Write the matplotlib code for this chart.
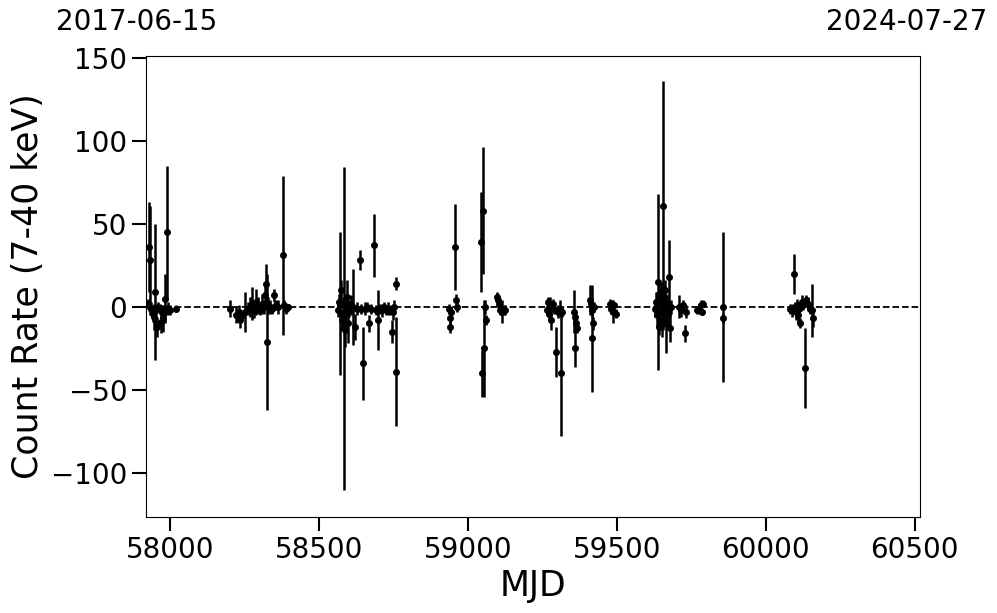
import numpy as np
import matplotlib
matplotlib.use('Agg')
import matplotlib.pyplot as plt

# MJD, count rate, 1-sigma error
mjd = [57926, 57929, 57931, 57936, 57942, 57946, 57949, 57953, 57956, 57959,
       57966, 57969, 57973, 57976, 57983, 57986, 57990, 57993, 58000, 58020,
       58201, 58221, 58231, 58235, 58241, 58251, 58262, 58268, 58275, 58282,
       58288, 58295, 58302, 58309, 58315, 58319, 58322, 58324, 58329, 58335,
       58342, 58349, 58356, 58362, 58379, 58382, 58389, 58396,
       58564, 58567, 58570, 58574, 58577, 58580, 58584, 58587, 58590, 58594,
       58597, 58600, 58607, 58614, 58620, 58627, 58637, 58640, 58648, 58654,
       58661, 58668, 58675, 58685, 58691, 58698, 58705, 58711, 58718, 58725,
       58732, 58738, 58745, 58748, 58752, 58758, 58760,
       58936, 58940, 58941, 58944, 58957, 58959, 58962, 59044, 59051, 59057,
       59061, 59054, 59046, 59098, 59101, 59104, 59108, 59114, 59121, 59124,
       59266, 59269, 59272, 59276, 59279, 59286, 59289, 59296, 59302, 59309,
       59312, 59316, 59356, 59359, 59363, 59366, 59361, 59410, 59413, 59417,
       59420, 59418, 59423, 59477, 59480, 59484, 59487, 59490, 59497,
       59628, 59632, 59635, 59638, 59640, 59642, 59645, 59648, 59652, 59655,
       59658, 59662, 59665, 59668, 59672, 59675, 59678, 59682, 59709, 59716,
       59722, 59729, 59732, 59769, 59776, 59783, 59786, 59789, 59857, 59858,
       60082, 60089, 60095, 60099, 60102, 60105, 60109, 60112, 60116, 60122,
       60126, 60132, 60136, 60143, 60149, 60156, 60157]
rate = [2, 36, 28, -1, -4, -6, 9, -2, -12, 0,
        -1, -9, -3, -7, 5, -2, 45, -1, -2, -1,
        -1, -5, -3, -8, -5, -3, -1, 0, 2, -2,
        3, 1, -1, 2, 0, 7, 14, -21, 1, 0,
        -1, 7, 1, 0, 31, 1, -1, 0,
        -2, 3, 2, 10, -8, -4, -13, -14, 0, 6,
        -10, -1, 1, 0, -12, -1, 28, -1, -34, -1,
        0, -10, -1, 37, -2, -8, -1, -2, 0, -2,
        -1, -2, -15, -3, 0, 14, -39,
        -1, -7, -12, -3, 36, 4, 0, 39, 58, 0,
        -8, -25, -40, 6, 4, 2, -2, -3, -2, -2,
        -2, 3, -4, 0, -8, 2, -1, -27, -3, -1,
        -40, -3, -3, -6, -10, -13, -25, 4, 2, -2,
        -10, -19, 0, 2, -1, 0, -3, 1, -4,
        -1, 3, -5, 15, -12, 8, -3, 5, -8, 61,
        0, 10, -10, 2, -4, 18, -13, 0, 0, -2,
        1, -16, -3, -2, -1, 1, -3, 2, 0, -7,
        -1, -2, 20, 0, -3, 1, -5, -1, -10, 3,
        1, -37, 4, 2, -1, -2, -7]
err = [3, 27, 33, 4, 5, 8, 41, 3, 6, 3,
       3, 7, 4, 8, 15, 3, 40, 4, 3, 2,
       5, 5, 4, 5, 3, 12, 4, 6, 10, 5,
       8, 5, 4, 6, 4, 6, 12, 41, 5, 4,
       3, 4, 3, 4, 48, 3, 3, 2,
       4, 5, 43, 6, 6, 10, 97, 10, 8, 10,
       12, 5, 6, 23, 8, 4, 6, 3, 22, 4,
       3, 5, 3, 19, 3, 18, 3, 4, 3, 3,
       4, 3, 7, 5, 4, 4, 33,
       3, 5, 4, 3, 26, 4, 3, 30, 38, 4,
       3, 29, 14, 3, 4, 3, 3, 7, 3, 3,
       3, 3, 4, 6, 6, 3, 3, 15, 4, 5,
       38, 3, 13, 3, 3, 3, 11, 9, 3, 4,
       4, 32, 3, 3, 3, 4, 7, 2, 3,
       5, 6, 7, 53, 5, 6, 8, 10, 10, 75,
       12, 6, 18, 5, 7, 22, 8, 4, 7, 4,
       3, 5, 4, 2, 3, 3, 2, 2, 45, 3,
       3, 4, 12, 3, 5, 4, 5, 3, 3, 4,
       3, 24, 3, 4, 3, 16, 5]

start_label = '2017-06-15'
end_label = '2024-07-27'
mjd_start = 57919
mjd_end = 60518

fig = plt.figure(figsize=(9.97, 6.13), dpi=100)
ax = fig.add_axes([0.1464, 0.1566, 0.7764, 0.752])

ax.errorbar(mjd, rate, yerr=err, fmt='o', color='black', ecolor='black',
            ms=4, elinewidth=1.8, capsize=0)
ax.axhline(0, color='black', ls='--', lw=1.3)

ax.set_xlim(mjd_start, mjd_end)
ax.set_ylim(-126.5, 151)
ax.set_xticks([58000, 58500, 59000, 59500, 60000, 60500])
ax.set_yticks([-100, -50, 0, 50, 100, 150])
ax.tick_params(labelsize=20, length=10, width=1.5)
ax.set_xlabel('MJD', fontsize=25)
ax.set_ylabel('Count Rate (7-40 keV)', fontsize=25)

fig.text(137 / 997, 1 - 22 / 613, start_label, fontsize=20, ha='center', va='center')
fig.text(907 / 997, 1 - 22 / 613, end_label, fontsize=20, ha='center', va='center')

fig.savefig('out.png', dpi=100)
